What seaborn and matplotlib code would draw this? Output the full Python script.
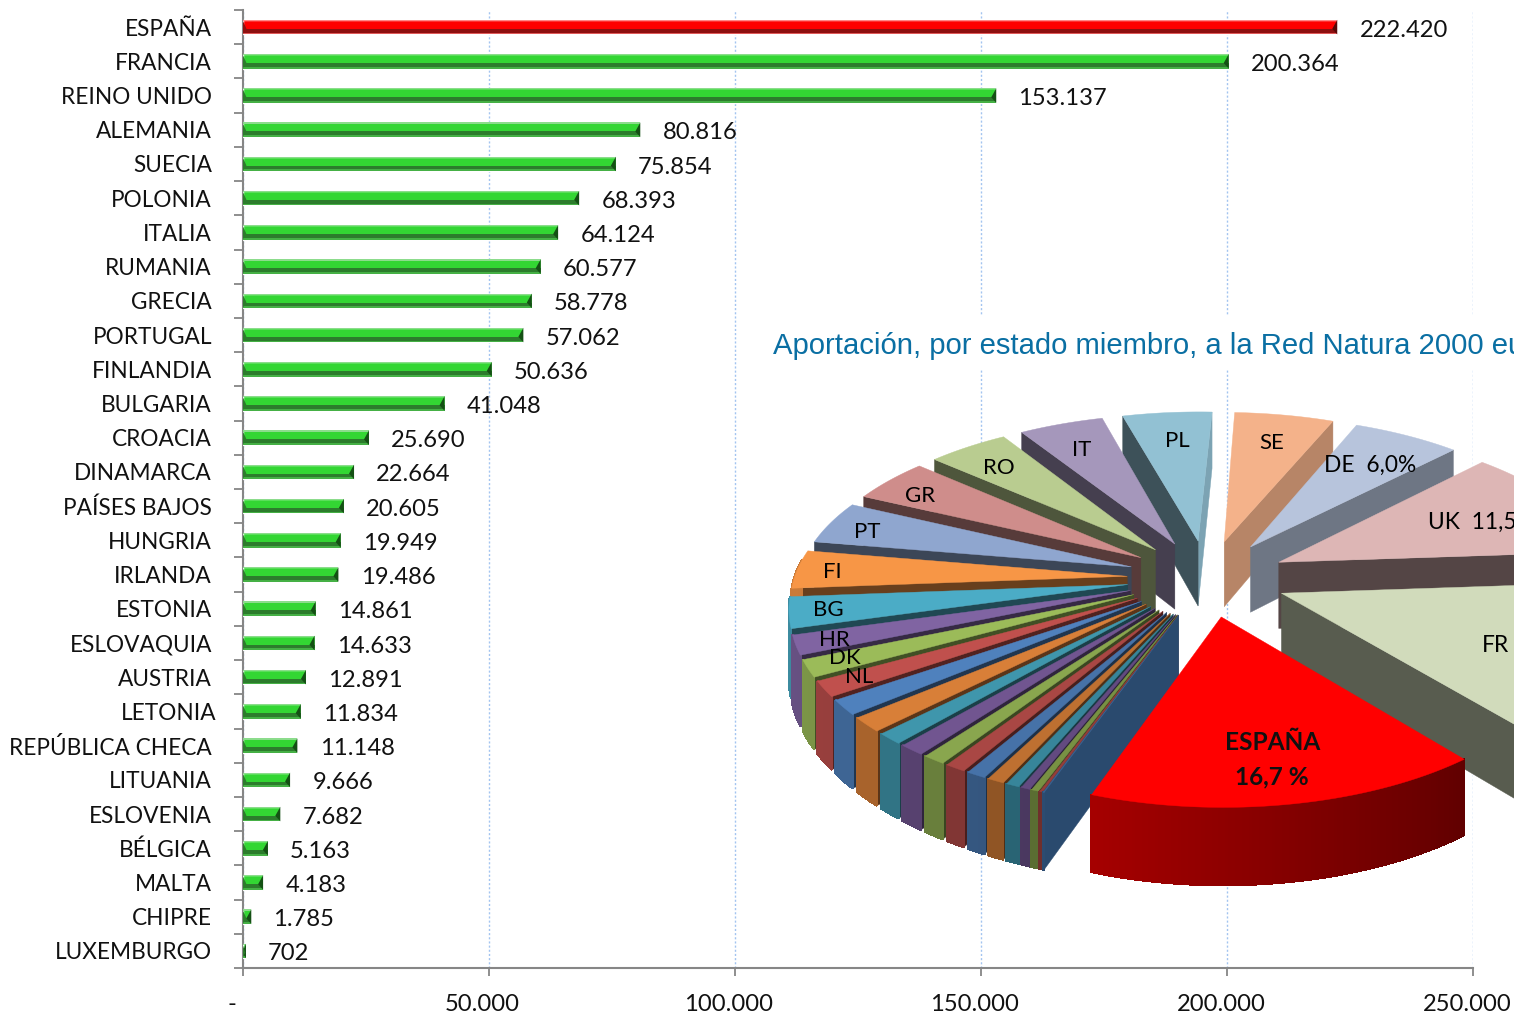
import numpy as np
import pandas as pd
import matplotlib
matplotlib.use('Agg')
import matplotlib.pyplot as plt
import matplotlib.transforms as mtrans
from matplotlib.colors import to_rgb
from matplotlib.patches import Polygon, Rectangle
import seaborn as sns

paises = ['ESPAÑA', 'FRANCIA', 'REINO UNIDO', 'ALEMANIA', 'SUECIA', 'POLONIA', 'ITALIA',
          'RUMANIA', 'GRECIA', 'PORTUGAL', 'FINLANDIA', 'BULGARIA', 'CROACIA', 'DINAMARCA',
          'PAÍSES BAJOS', 'HUNGRIA', 'IRLANDA', 'ESTONIA', 'ESLOVAQUIA', 'AUSTRIA', 'LETONIA',
          'REPÚBLICA CHECA', 'LITUANIA', 'ESLOVENIA', 'BÉLGICA', 'MALTA', 'CHIPRE', 'LUXEMBURGO']
valores = [222420, 200364, 153137, 80816, 75854, 68393, 64124, 60577, 58778, 57062, 50636,
           41048, 25690, 22664, 20605, 19949, 19486, 14861, 14633, 12891, 11834, 11148, 9666,
           7682, 5163, 4183, 1785, 702]
colores_tarta = ['#FF0000', '#D1DBBB', '#DDB6B5', '#B7C4DC', '#F4B28A', '#92C1D3', '#A597BB',
                 '#B9CC90', '#CF8D8B', '#8FA6CF', '#F79646', '#4BACC6', '#8064A2', '#9BBB59',
                 '#C0504D', '#4F81BD', '#D87F38', '#3F96AC', '#715590', '#89A64E', '#A94744',
                 '#4672A8', '#BE7031', '#37859A', '#634A80', '#789143', '#943E3B', '#3A6596']
xticks = [0, 50000, 100000, 150000, 200000, 250000]
xlabels = ['-', '50.000', '100.000', '150.000', '200.000', '250.000']
titulo = 'Aportación, por estado miembro, a la Red Natura 2000 eu'

W, H = 1514, 1015
FUENTE = 'Lato'
GRIS = '#868686'

fig = plt.figure(figsize=(W / 100, H / 100), dpi=100)
sns.set_style('white')
plt.rcParams['font.family'] = FUENTE

# ---- bars ----
ax = fig.add_axes([242.5 / W, 1 - 968 / H, (1473 - 242.5) / W, (968 - 10) / H])
df = pd.DataFrame({'pais': paises, 'valor': valores})
paleta = {p: ('#FF0000' if p == 'ESPAÑA' else '#33D633') for p in paises}
sns.barplot(data=df, y='pais', x='valor', hue='pais', palette=paleta, dodge=False, legend=False,
            width=0.424, saturation=1, ax=ax, zorder=3)
ax.set_xlim(0, 250000)
ax.set_ylim(27.5, -0.5)
ax.set_xlabel('')
ax.set_ylabel('')

px_x = 250000 / (1473 - 242.5)
for i, c in enumerate(ax.containers):
    r = c.patches[0]
    x0, y0, w, h = r.get_x(), r.get_y(), r.get_width(), r.get_height()
    if i == 0:
        claro, oscuro, borde, punta = '#FF8A8A', '#8E1010', '#E05A5A', '#5A0808'
    else:
        claro, oscuro, borde, punta = '#8CDC8C', '#2C7C2C', '#45B045', '#145014'
    ax.add_patch(Rectangle((x0, y0), w, h * 0.08, fc=claro, ec='none', zorder=4))
    ax.add_patch(Rectangle((x0, y0 + h * 0.62), w, h * 0.26, fc=oscuro, ec='none', zorder=4))
    ax.add_patch(Rectangle((x0, y0 + h * 0.88), w, h * 0.12, fc=borde, ec='none', zorder=4))
    d = min(5 * px_x, w)
    ax.add_patch(Polygon([(w, y0), (w, y0 + h), (w - d, y0 + h * 0.62)], fc=punta, ec='none', zorder=5))
    ax.add_patch(Polygon([(0, y0), (0, y0 + h), (d * 0.8, y0 + h * 0.62)], fc=oscuro, ec='none', zorder=5))
    etiqueta = f'{valores[i]:,}'.replace(',', '.')
    anns = ax.bar_label(c, labels=[etiqueta], padding=16, fontsize=17.1, color='#111111', zorder=6,
                        family=FUENTE)
    for a in anns:
        a.xyann = (a.xyann[0], a.xyann[1] - 2.2)

ax.set_axisbelow(True)
ax.xaxis.grid(True, color='#A3C4F0', lw=1, ls=(0, (1.5, 1.5)))
ax.yaxis.grid(False)
sns.despine(ax=ax, top=True, right=True)
for s in ['left', 'bottom']:
    ax.spines[s].set_color(GRIS)
    ax.spines[s].set_linewidth(1.5)
ax.set_xticks(xticks)
ax.set_xticklabels(xlabels, fontsize=17.1, color='#111111')
ax.tick_params(axis='x', length=6, width=1.3, color=GRIS, pad=13, bottom=True)
ax.set_yticks(np.arange(-0.5, 28, 1), minor=True)
ax.tick_params(axis='y', which='minor', length=6.5, width=1.3, color=GRIS, left=True)
ax.tick_params(axis='y', which='major', length=0, pad=22, labelsize=16.3, labelcolor='#111111')
for t in ax.get_xticklabels():
    dx = -11 if t.get_text() == '-' else -6
    t.set_transform(t.get_transform() + mtrans.Affine2D().translate(dx, 0))
for t in ax.get_yticklabels():
    if t.get_text() == 'LETONIA':
        t.set_transform(t.get_transform() + mtrans.Affine2D().translate(5, 0))

# ---- 3d pie on a pixel overlay ----
ov = fig.add_axes([0, 0, 1, 1], zorder=10)
ov.set_xlim(0, W)
ov.set_ylim(H, 0)
ov.axis('off')
ov.patch.set_alpha(0)
ov.add_patch(Rectangle((760, 315), W - 760, 55, fc='white', ec='none', zorder=0))
ov.text(773, 346, titulo, fontsize=21.1, color='#0A6FA3', family='Liberation Sans', va='center', ha='left')

CX, CY, R0, ESC, PERSP, EXPL, PROF = 1207, 578, 333, 0.48, 0.13, 0.24, 67


def proy(u, v, abajo=False):
    p = 1 + PERSP * v
    y = CY + R0 * ESC * v * p
    if abajo:
        y = y + PROF * p
    return CX + R0 * u * p, y


def tono(color, f):
    return tuple(c * f for c in to_rgb(color))


fracc = np.array(valores) / sum(valores) * 360
inicio = -20 + np.concatenate([[0], np.cumsum(fracc)[:-1]])
fin = inicio + fracc
orden = np.argsort(np.cos(np.radians((inicio + fin) / 2)))
for i in orden:
    a0, a1 = inicio[i], fin[i]
    medio = np.radians((a0 + a1) / 2)
    du, dv = EXPL * np.sin(medio), EXPL * np.cos(medio)
    col = colores_tarta[i]
    z = 20 + list(orden).index(i)

    def punto(ang, r=1.0, abajo=False):
        return proy(du + r * np.sin(np.radians(ang)), dv + r * np.cos(np.radians(ang)), abajo)

    apice = proy(du, dv)
    apice_b = proy(du, dv, True)
    # radial walls
    if np.cos(np.radians(a0 - 90)) > 0:
        f = np.interp(a0, [40, 94, 135, 157, 178, 360], [.42, .38, .6, .75, .85, .85])
        ov.add_patch(Polygon([apice, punto(a0), punto(a0, abajo=True), apice_b], fc=tono(col, f), ec=tono(col, f), lw=.3, zorder=z))
    if np.cos(np.radians(a1 + 90)) > 0:
        cw = '#2A4A6E' if i == len(valores) - 1 else tono(col, .42)
        ov.add_patch(Polygon([apice, punto(a1), punto(a1, abajo=True), apice_b], fc=cw, ec=cw, lw=.3, zorder=z))
    # outer rim, only the part facing the viewer
    pasos = np.linspace(a0, a1, max(2, int((a1 - a0) / 0.5) + 2))
    for b0, b1 in zip(pasos[:-1], pasos[1:]):
        bm = (b0 + b1) / 2
        if np.cos(np.radians(bm)) < -0.1:
            continue
        f = np.interp(bm, [-20, 40, 94, 270, 340], [.65, .38, .4, .82, .75])
        ov.add_patch(Polygon([punto(b0), punto(b1), punto(b1, abajo=True), punto(b0, abajo=True)],
                             fc=tono(col, f), ec=tono(col, f), lw=1.0, zorder=z, antialiased=False))
    arco = np.linspace(a0, a1, 40)
    ov.add_patch(Polygon([apice] + [punto(b) for b in arco], fc=col, ec=col, lw=.3, zorder=z + .5))

etiquetas = [('PL', 1177, 441), ('SE', 1272, 443), ('IT', 1082, 450), ('RO', 999, 468), ('GR', 920, 496),
             ('PT', 867, 532), ('FI', 832, 572), ('BG', 828, 610), ('HR', 834, 640), ('DK', 845, 658),
             ('NL', 859, 677)]
for txt, x, y in etiquetas:
    ov.text(x, y, txt, fontsize=16, color='black', ha='center', va='center', zorder=60)
ov.text(1324, 465, 'DE  6,0%', fontsize=16.4, color='black', ha='left', va='center', zorder=60)
ov.text(1428, 522, 'UK  11,5%', fontsize=16.4, color='black', ha='left', va='center', zorder=60)
ov.text(1482, 645, 'FR', fontsize=16.4, color='black', ha='left', va='center', zorder=60)
ov.text(1273, 743, 'ESPAÑA', fontsize=17.6, fontweight='bold', color='#111111', ha='center', va='center', zorder=60)
ov.text(1272, 777, '16,7 %', fontsize=17.6, fontweight='bold', color='#111111', ha='center', va='center', zorder=60)

fig.savefig('out.png', dpi=100)
